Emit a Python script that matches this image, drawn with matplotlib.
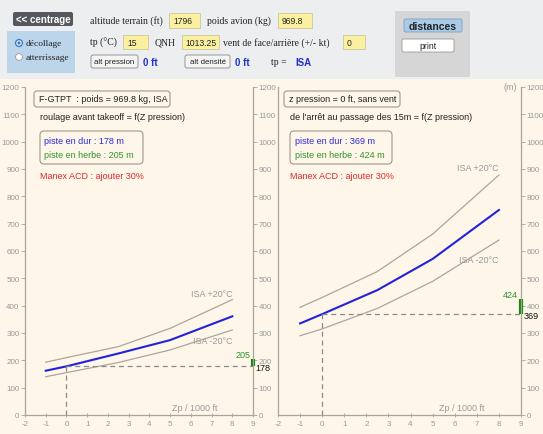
import matplotlib
matplotlib.use("Agg")
import matplotlib.pyplot as plt
from matplotlib.patches import FancyBboxPatch, Rectangle, Circle

plt.rcParams['axes.unicode_minus'] = False

# distances en fonction de Zp (1000 ft)
zp = [-1, 0, 2.5, 5, 8]
roul_isa = [162, 178, 225, 274, 361]
roul_p20 = [193, 210, 250, 317, 422]
roul_m20 = [140, 155, 192, 238, 311]
dist_isa = [335, 369, 457, 571, 750]
dist_p20 = [394, 430, 525, 662, 878]
dist_m20 = [290, 315, 390, 489, 640]

zp_terrain = 0
roul_dur, roul_herbe = 178, 205
dist_dur, dist_herbe = 369, 424

xticks = list(range(-2, 10))
yticks = list(range(0, 1300, 100))

W, H = 543, 435
fig = plt.figure(figsize=(W / 100, H / 100), dpi=100)

# fond en coordonnées pixels
bg = fig.add_axes([0, 0, 1, 1], zorder=0)
bg.set_xlim(0, W)
bg.set_ylim(H, 0)
bg.axis('off')

sans = 'Liberation Sans'
serif = 'Liberation Serif'
fs = 6.5
tfs = 5.8


def box(x0, y0, x1, y1, fc, ec='none', lw=0.6, r=0):
    if r:
        p = FancyBboxPatch((x0, y0), x1 - x0, y1 - y0, boxstyle='round,pad=0,rounding_size=%g' % r,
                           fc=fc, ec=ec, lw=lw)
    else:
        p = Rectangle((x0, y0), x1 - x0, y1 - y0, fc=fc, ec=ec, lw=lw)
    bg.add_patch(p)


def txt(x, y, s, size=fs, color='#222222', family=sans, weight='normal', ha='left'):
    bg.text(x, y, s, fontsize=size, color=color, family=family, weight=weight, ha=ha, va='center')


# barre du haut
box(0, 0, W, 80, '#eceef0')
box(0, 80, W, H, '#fdf6e9')
box(13, 13, 73, 27, '#54585c', r=2)
txt(43, 20, '<< centrage', size=7, color='white', weight='bold', ha='center')
box(7, 32, 75, 74, '#bcd5ea')
bg.add_patch(Circle((19, 44), 3.4, fc='white', ec='#3a78c8', lw=1))
bg.add_patch(Circle((19, 44), 1.6, fc='#3a78c8', ec='none'))
bg.add_patch(Circle((19, 58), 3.4, fc='white', ec='#999999', lw=0.6))
txt(26, 44.5, 'décollage', family=serif, size=6.8)
txt(26, 58, 'atterrissage', family=serif, size=6.8)

txt(90, 21, 'altitude terrain (ft)', family=serif, size=7)
box(169, 14, 200, 29, '#faf0a0', ec='#c8c8a0')
txt(173, 21.5, '1796', size=6.2)
txt(207, 21, 'poids avion (kg)', family=serif, size=7)
box(278, 14, 312, 29, '#faf0a0', ec='#c8c8a0')
txt(282, 21.5, '969.8', size=6.2)

txt(90, 43, 'tp (°C)', family=serif, size=7)
box(123, 36, 148, 50, '#faf0a0', ec='#c8c8a0')
txt(127, 43, '15', size=6.2)
txt(155, 43, 'QNH', family=serif, size=7)
box(182, 36, 219, 50, '#faf0a0', ec='#c8c8a0')
txt(185, 43, '1013.25', size=6.2)
txt(223, 43, 'vent de face/arrière (+/- kt)', family=serif, size=7)
box(343, 36, 365, 50, '#faf0a0', ec='#c8c8a0')
txt(347, 43, '0', size=6.2)

box(91, 56, 138, 69, '#f4f4f4', ec='#888888', r=2)
txt(114.5, 62.5, 'alt pression', size=5.7, ha='center')
txt(143, 62.5, '0 ft', size=7, color='#2233cc', weight='bold')
box(185, 56, 230, 69, '#f4f4f4', ec='#888888', r=2)
txt(207.5, 62.5, 'alt densité', size=5.7, ha='center')
txt(235, 62.5, '0 ft', size=7, color='#2233cc', weight='bold')
txt(271, 62.5, 'tp =', family=serif, size=7)
txt(295, 62.5, 'ISA', size=7, color='#2233cc', weight='bold')

box(395, 12, 470, 78, '#d6d6d6')
box(404, 20, 462, 33, '#a9cbe8', ec='#7f9fbf', r=1.5)
txt(433, 26.5, 'distances', size=7.5, weight='bold', ha='center')
box(402, 40, 454, 53, 'white', ec='#999999', r=1.5)
txt(428, 46.5, 'print', size=6.2, ha='center')

# textes des graphes
box(34, 92, 170, 108, 'none', ec='#a09888', lw=0.8, r=3)
txt(39, 100, 'F-GTPT  : poids = 969.8 kg, ISA')
txt(40, 117, 'roulage avant takeoff = f(Z pression)')
box(40, 132, 143, 165, 'none', ec='#a09888', lw=0.8, r=4)
txt(44, 142, 'piste en dur : %d m' % roul_dur, color='#2b2bd8')
txt(44, 156, 'piste en herbe : %d m' % roul_herbe, color='#2f942f')
txt(40, 177, 'Manex ACD : ajouter 30%', color='#e02828')

box(284, 92, 400, 108, 'none', ec='#a09888', lw=0.8, r=3)
txt(289, 100, 'z pression = 0 ft, sans vent')
txt(290, 117, "de l'arrêt au passage des 15m = f(Z pression)")
box(290, 132, 392, 165, 'none', ec='#a09888', lw=0.8, r=4)
txt(295, 142, 'piste en dur : %d m' % dist_dur, color='#2b2bd8')
txt(295, 156, 'piste en herbe : %d m' % dist_herbe, color='#2f942f')
txt(290, 177, 'Manex ACD : ajouter 30%', color='#e02828')

axc = '#aaa398'
lab = '#9a9a9a'


def panel(x0, x1, isa, p20, m20, dur, herbe, left_labels, p20_pos, m20_pos, zp_lab):
    ax = fig.add_axes([x0 / W, 1 - 416 / H, (x1 - x0) / W, 328 / H], zorder=1)
    ax.patch.set_alpha(0)
    ax.set_xlim(-2, 9)
    ax.set_ylim(0, 1200)
    ax.spines['top'].set_visible(False)
    for s in ['left', 'right', 'bottom']:
        ax.spines[s].set_color(axc)
        ax.spines[s].set_linewidth(0.9)
    ax.set_xticks(xticks)
    ax.set_yticks(yticks)
    ax.tick_params(axis='x', direction='inout', length=3, width=0.6, color=axc,
                   labelsize=tfs, labelcolor=lab, pad=2)
    ax.tick_params(axis='y', direction='out', length=3, width=0.6, color=axc,
                   labelsize=tfs, labelcolor=lab, pad=1,
                   left=left_labels, labelleft=left_labels, right=True, labelright=True)
    for lb in ax.get_xticklabels() + ax.get_yticklabels():
        lb.set_family(sans)
    ax.plot(zp, p20, color='#aca59c', lw=0.9)
    ax.plot(zp, m20, color='#aca59c', lw=0.9)
    ax.plot(zp, isa, color='#2222dd', lw=1.5)
    ax.plot([zp_terrain, zp_terrain], [0, dur], color='#8a8a8a', lw=0.9, ls=(0, (4, 3)))
    ax.plot([zp_terrain, 9], [dur, dur], color='#8a8a8a', lw=0.9, ls=(0, (4, 3)))
    ax.plot([9, 9], [dur, herbe], color='#118811', lw=3, solid_capstyle='butt', clip_on=False)
    ax.annotate(str(herbe), (9, herbe), xytext=(-2, 3.5), textcoords='offset points',
                ha='right', va='center', fontsize=fs, color='#2f942f', family=sans)
    ax.annotate(str(dur), (9, dur), xytext=(2, -1), textcoords='offset points',
                ha='left', va='center', fontsize=fs, color='#111111', family=sans)
    ax.text(p20_pos[0], p20_pos[1], 'ISA +20°C', fontsize=fs, color=lab, family=sans, ha='right')
    ax.text(m20_pos[0], m20_pos[1], 'ISA -20°C', fontsize=fs, color=lab, family=sans, ha='right')
    ax.text(zp_lab, 18, 'Zp / 1000 ft', fontsize=fs, color=lab, family=sans, ha='center')
    return ax


panel(25, 253, roul_isa, roul_p20, roul_m20, roul_dur, roul_herbe, True, (8, 435), (8, 262), 6.2)
ax2 = panel(278, 521, dist_isa, dist_p20, dist_m20, dist_dur, dist_herbe, False, (8, 895), (8, 560), 6.3)
ax2.text(8.8, 1200, '(m)', fontsize=fs, color=lab, family=sans, ha='right', va='center')

fig.savefig('out.png', dpi=100)
